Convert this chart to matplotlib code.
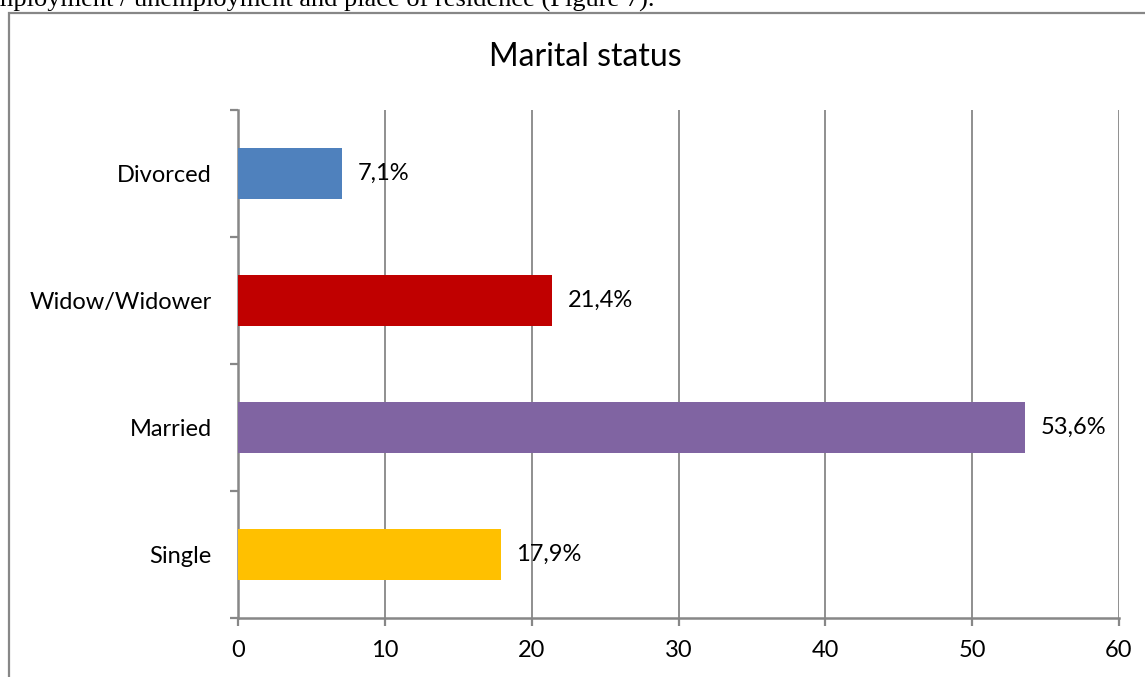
# Marital status bar chart (horizontal), Excel-like styling

import matplotlib.pyplot as plt
from matplotlib.patches import Rectangle

categories = ["Single", "Married", "Widow/Widower", "Divorced"]
values = [17.9, 53.6, 21.4, 7.1]
labels = ["17,9%", "53,6%", "21,4%", "7,1%"]
colors = ["#FFC000", "#8064A2", "#C00000", "#4F81BD"]
xticks = [0, 10, 20, 30, 40, 50, 60]

grey = "#878787"
font = ["Lato", "DejaVu Sans"]

fig = plt.figure(figsize=(11.45, 6.77), dpi=100)

# caption text cut off at the top of the page
fig.text(-19 / 1145, 1 - 7 / 677, "employment / unemployment and place of residence (Figure 7).",
         family="Liberation Serif", fontsize=19, va="baseline", ha="left")

# chart area border (only left and top are visible)
fig.patches.append(Rectangle((8.5 / 1145, -0.1), 2, 1.1 - 13 / 677,
                             transform=fig.transFigure, fill=False,
                             edgecolor=grey, linewidth=1.6))

ax = fig.add_axes([238 / 1145, 1 - 618 / 677, 881 / 1145, 508 / 677])
pos = range(len(categories))
ax.barh(pos, values, height=0.4, color=colors, zorder=3)

for y, v, t in zip(pos, values, labels):
    ax.annotate(t, (v, y), xytext=(11, 0), textcoords="offset points",
                va="center", ha="left", fontsize=17, family=font, zorder=4)

ax.set_xlim(0, 60)
ax.set_ylim(-0.5, 3.5)
ax.set_xticks(xticks)
ax.set_yticks(list(pos))
ax.set_yticklabels(categories, family=font, fontsize=17)
ax.set_yticks([-0.5, 0.5, 1.5, 2.5, 3.5], minor=True)
ax.tick_params(axis="y", which="major", length=0, pad=19)
ax.tick_params(axis="y", which="minor", length=6, width=1.6, color=grey)
ax.tick_params(axis="x", length=6, width=1.6, color=grey, pad=10, labelsize=17)
for lbl in ax.get_xticklabels():
    lbl.set_family(font)

ax.grid(axis="x", color=grey, linewidth=1.3, zorder=0)
for s in ["top", "right"]:
    ax.spines[s].set_visible(False)
for s in ["left", "bottom"]:
    ax.spines[s].set_color(grey)
    ax.spines[s].set_linewidth(1.8)

fig.text(585 / 1145, 1 - 57 / 677, "Marital status", ha="center", va="center",
         fontsize=23, family=font)

fig.savefig("out.png", dpi=100)
